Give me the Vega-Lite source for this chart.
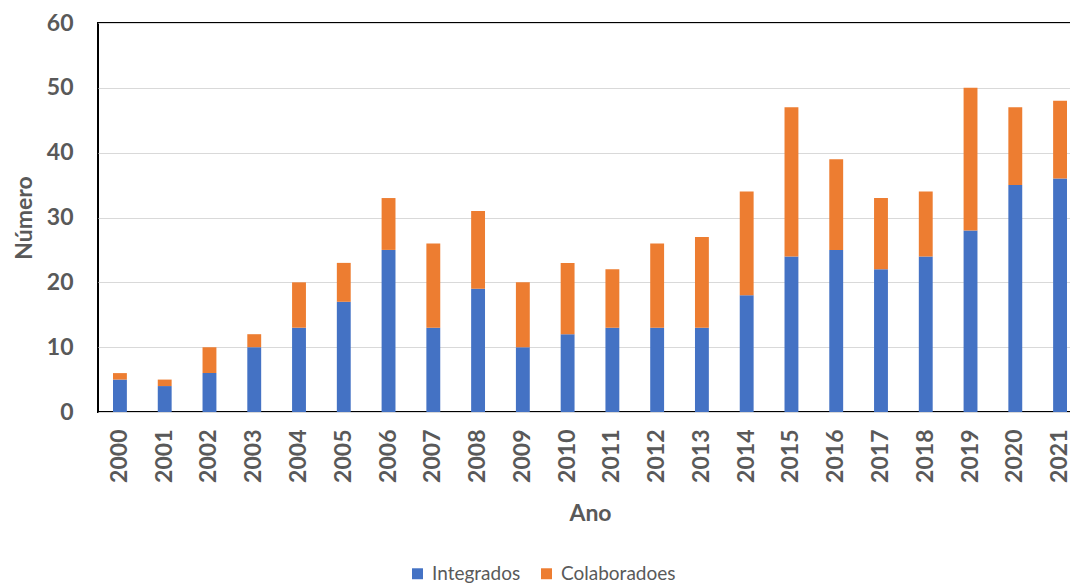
{
  "$schema": "https://vega.github.io/schema/vega-lite/v6.json",
  "autosize": {"type": "none"},
  "padding": {"left": 98, "top": 23, "right": 0, "bottom": 174},
  "width": 984,
  "height": 389,
  "background": "white",
  "data": {"values": [
    {"ano": "2000", "serie": "Integrados", "ord": 1, "valor": 5}, {"ano": "2000", "serie": "Colaboradoes", "ord": 2, "valor": 1},
    {"ano": "2001", "serie": "Integrados", "ord": 1, "valor": 4}, {"ano": "2001", "serie": "Colaboradoes", "ord": 2, "valor": 1},
    {"ano": "2002", "serie": "Integrados", "ord": 1, "valor": 6}, {"ano": "2002", "serie": "Colaboradoes", "ord": 2, "valor": 4},
    {"ano": "2003", "serie": "Integrados", "ord": 1, "valor": 10}, {"ano": "2003", "serie": "Colaboradoes", "ord": 2, "valor": 2},
    {"ano": "2004", "serie": "Integrados", "ord": 1, "valor": 13}, {"ano": "2004", "serie": "Colaboradoes", "ord": 2, "valor": 7},
    {"ano": "2005", "serie": "Integrados", "ord": 1, "valor": 17}, {"ano": "2005", "serie": "Colaboradoes", "ord": 2, "valor": 6},
    {"ano": "2006", "serie": "Integrados", "ord": 1, "valor": 25}, {"ano": "2006", "serie": "Colaboradoes", "ord": 2, "valor": 8},
    {"ano": "2007", "serie": "Integrados", "ord": 1, "valor": 13}, {"ano": "2007", "serie": "Colaboradoes", "ord": 2, "valor": 13},
    {"ano": "2008", "serie": "Integrados", "ord": 1, "valor": 19}, {"ano": "2008", "serie": "Colaboradoes", "ord": 2, "valor": 12},
    {"ano": "2009", "serie": "Integrados", "ord": 1, "valor": 10}, {"ano": "2009", "serie": "Colaboradoes", "ord": 2, "valor": 10},
    {"ano": "2010", "serie": "Integrados", "ord": 1, "valor": 12}, {"ano": "2010", "serie": "Colaboradoes", "ord": 2, "valor": 11},
    {"ano": "2011", "serie": "Integrados", "ord": 1, "valor": 13}, {"ano": "2011", "serie": "Colaboradoes", "ord": 2, "valor": 9},
    {"ano": "2012", "serie": "Integrados", "ord": 1, "valor": 13}, {"ano": "2012", "serie": "Colaboradoes", "ord": 2, "valor": 13},
    {"ano": "2013", "serie": "Integrados", "ord": 1, "valor": 13}, {"ano": "2013", "serie": "Colaboradoes", "ord": 2, "valor": 14},
    {"ano": "2014", "serie": "Integrados", "ord": 1, "valor": 18}, {"ano": "2014", "serie": "Colaboradoes", "ord": 2, "valor": 16},
    {"ano": "2015", "serie": "Integrados", "ord": 1, "valor": 24}, {"ano": "2015", "serie": "Colaboradoes", "ord": 2, "valor": 23},
    {"ano": "2016", "serie": "Integrados", "ord": 1, "valor": 25}, {"ano": "2016", "serie": "Colaboradoes", "ord": 2, "valor": 14},
    {"ano": "2017", "serie": "Integrados", "ord": 1, "valor": 22}, {"ano": "2017", "serie": "Colaboradoes", "ord": 2, "valor": 11},
    {"ano": "2018", "serie": "Integrados", "ord": 1, "valor": 24}, {"ano": "2018", "serie": "Colaboradoes", "ord": 2, "valor": 10},
    {"ano": "2019", "serie": "Integrados", "ord": 1, "valor": 28}, {"ano": "2019", "serie": "Colaboradoes", "ord": 2, "valor": 22},
    {"ano": "2020", "serie": "Integrados", "ord": 1, "valor": 35}, {"ano": "2020", "serie": "Colaboradoes", "ord": 2, "valor": 12},
    {"ano": "2021", "serie": "Integrados", "ord": 1, "valor": 36}, {"ano": "2021", "serie": "Colaboradoes", "ord": 2, "valor": 12}
  ]},
  "mark": {"type": "bar"},
  "encoding": {
    "x": {
      "field": "ano", "type": "ordinal", "title": "Ano",
      "scale": {"paddingInner": 0.69, "paddingOuter": 0.335},
      "axis": {"labelAngle": -90, "labelFont": "Lato", "labelFontWeight": "bold", "labelFontSize": 23, "labelColor": "#595959",
               "labelPadding": 17, "ticks": false, "domain": false,
               "titleFont": "Lato", "titleFontSize": 23, "titleFontWeight": "bold", "titleColor": "#595959", "titlePadding": 20}
    },
    "y": {
      "field": "valor", "type": "quantitative", "aggregate": "sum", "stack": "zero", "title": "Número",
      "scale": {"domain": [0, 60], "nice": false},
      "axis": {"values": [0, 10, 20, 30, 40, 50, 60], "labelFont": "Lato", "labelFontWeight": "bold", "labelFontSize": 23, "labelColor": "#595959",
               "labelPadding": 25, "ticks": false, "domain": false, "gridColor": "#D9D9D9", "gridWidth": 1,
               "titleFont": "Lato", "titleFontSize": 23, "titleFontWeight": "bold", "titleColor": "#595959", "titlePadding": 10}
    },
    "color": {
      "field": "serie", "type": "nominal", "title": null,
      "scale": {"domain": ["Integrados", "Colaboradoes"], "range": ["#4472C4", "#ED7D31"]},
      "legend": {"orient": "none", "legendX": 310, "legendY": 541, "direction": "horizontal",
                 "symbolType": "square", "symbolSize": 120, "symbolStrokeWidth": 0, "symbolOpacity": 1,
                 "labelFont": "Lato", "labelFontSize": 19, "labelColor": "#595959", "columnPadding": 16, "labelOffset": 5}
    },
    "order": {"field": "ord", "type": "quantitative"}
  },
  "config": {"view": {"stroke": "black", "strokeWidth": 2}}
}
